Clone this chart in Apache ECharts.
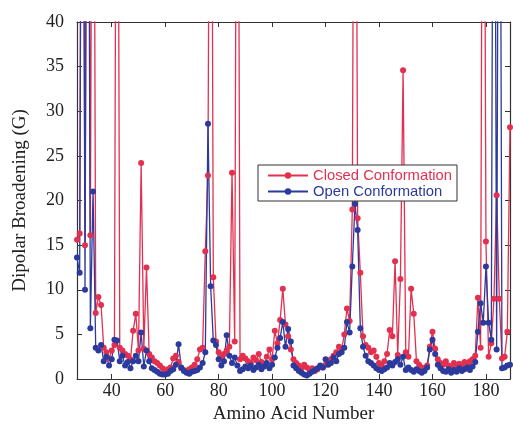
<!DOCTYPE html>
<html>
<head>
<meta charset="utf-8">
<script src="https://cdn.jsdelivr.net/npm/echarts@6/dist/echarts.min.js"></script>
<style>
html,body{margin:0;padding:0;background:#fff;}
#chart{width:513px;height:425px;}
</style>
</head>
<body>
<div id="chart"></div>
<script>
// residues 27..189
const residueStart = 27;
const closedValues = [
15.6,16.3,100,15.0,100,16.1,100,7.4,9.2,8.3,3.5,3.0,2.3,3.2,3.8,100,3.5,3.2,2.8,2.6,
2.2,5.4,7.3,3.2,24.2,3.4,12.5,2.8,2.4,2.0,1.8,1.5,1.2,1.0,1.1,1.3,2.3,2.6,1.9,1.2,
1.0,0.9,1.1,1.3,1.6,2.2,3.3,3.5,14.3,22.8,100,11.4,4.2,3.0,2.4,2.8,3.2,3.6,23.1,4.2,
100,2.2,2.6,2.3,2.0,1.8,2.4,2.1,2.8,1.9,1.6,2.5,3.3,2.2,5.4,4.0,6.6,10.1,6.1,4.8,
3.3,2.2,1.8,1.5,1.2,1.6,1.3,1.0,1.2,0.9,1.1,1.4,1.3,1.6,1.8,2.2,2.6,3.0,3.6,3.3,
5.0,7.9,6.5,19.0,100,18.0,11.9,4.8,3.8,3.5,3.0,3.2,2.5,1.8,1.5,2.0,2.8,5.5,4.8,13.2,
2.7,11.2,34.6,3.0,2.5,10.1,7.3,2.0,1.6,1.3,1.2,1.5,3.6,5.3,3.4,2.2,1.8,1.6,2.0,1.5,
1.3,1.8,1.5,1.7,1.4,1.9,1.6,2.0,2.2,2.6,9.1,3.5,100,15.4,2.5,4.0,9.0,20.6,9.0,2.3,
2.5,5.3,28.2
];
const openValues = [
13.6,11.9,100,10.0,100,5.7,21.0,3.5,3.2,3.8,2.0,2.5,1.5,2.2,4.4,4.3,2.0,2.6,1.5,1.9,
1.2,2.0,2.6,2.0,5.2,1.4,3.2,2.0,1.2,1.0,0.8,0.6,0.5,0.5,0.6,0.9,1.1,1.6,3.9,1.3,
0.9,0.7,0.6,0.8,0.9,1.0,1.3,1.8,3.0,28.6,10.4,4.3,3.8,2.2,1.5,2.0,4.9,2.6,1.8,2.4,
1.5,0.9,1.1,1.4,1.2,1.5,1.0,1.3,1.6,1.1,1.4,1.8,1.2,1.6,2.4,3.5,4.6,6.4,3.6,5.6,
4.2,1.5,1.2,0.9,0.7,0.5,0.4,0.6,0.8,1.0,1.2,1.5,1.3,2.2,1.6,1.8,2.4,2.0,2.8,3.0,
3.5,6.4,5.2,12.6,19.6,16.7,5.7,3.6,2.6,2.0,1.8,1.5,1.2,1.0,0.9,1.1,1.3,1.8,1.5,1.9,
2.2,1.6,2.5,1.0,1.3,1.0,0.8,1.1,0.9,0.7,0.9,1.3,3.3,4.4,2.8,1.6,1.2,0.9,0.8,1.1,
0.7,1.0,0.8,1.2,0.9,1.1,1.3,1.0,1.4,1.9,5.3,8.5,6.3,12.6,6.3,4.4,100,3.3,100,1.2,
1.3,1.5,1.6
];
const xTicks = [40,60,80,100,120,140,160,180];
const yTicks = [0,5,10,15,20,25,30,35,40];
const seriesNames = ['Closed Conformation','Open Conformation'];

const closedData = closedValues.map((v,i)=>[residueStart+i, v]);
const openData = openValues.map((v,i)=>[residueStart+i, v]);

const RED = '#e3304f';
const BLUE = '#2b3a9c';
const serif = 'Liberation Serif';

const chart = echarts.init(document.getElementById('chart'), null, {renderer:'canvas'});
chart.setOption({
  animation:false,
  backgroundColor:'#fff',
  grid:{left:77, right:3, top:22, bottom:46, containLabel:false, outerBoundsMode:'none'},
  legend:{
    orient:'vertical', left:258, top:165,
    backgroundColor:'#fff', borderColor:'#333', borderWidth:1,
    padding:[3,5,2,9], itemGap:1, itemWidth:40, itemHeight:8,
    textStyle:{fontFamily:'Liberation Sans', fontSize:14.8},
    data:[
      {name:seriesNames[0], textStyle:{color:RED}},
      {name:seriesNames[1], textStyle:{color:BLUE}}
    ]
  },
  xAxis:[{
    type:'value', min:27, max:189,
    name:'Amino Acid Number', nameLocation:'middle', nameGap:26,
    nameTextStyle:{fontFamily:serif, fontSize:19, color:'#222'},
    axisLine:{show:true, onZero:false, lineStyle:{color:'#333', width:1.2}},
    axisTick:{show:true, inside:true, length:5, customValues:xTicks, lineStyle:{color:'#333'}},
    axisLabel:{customValues:xTicks, fontFamily:serif, fontSize:18, color:'#222', margin:3},
    splitLine:{show:false}
  },{
    type:'value', min:27, max:189, position:'top',
    axisLine:{show:true, onZero:false, lineStyle:{color:'#333', width:1.2}},
    axisTick:{show:true, inside:true, length:5, customValues:xTicks, lineStyle:{color:'#333'}},
    axisLabel:{show:false}, splitLine:{show:false}
  }],
  yAxis:[{
    type:'value', min:0, max:40, interval:5,
    name:'Dipolar Broadening (G)', nameLocation:'middle', nameGap:47, nameRotate:90,
    nameTextStyle:{fontFamily:serif, fontSize:19, color:'#222'},
    axisLine:{show:true, onZero:false, lineStyle:{color:'#333', width:1.2}},
    axisTick:{show:true, inside:true, length:5, lineStyle:{color:'#333'}},
    axisLabel:{fontFamily:serif, fontSize:18, color:'#222', margin:13},
    splitLine:{show:false}
  },{
    type:'value', min:0, max:40, interval:5, position:'right',
    axisLine:{show:true, onZero:false, lineStyle:{color:'#333', width:1.2}},
    axisTick:{show:true, inside:true, length:5, lineStyle:{color:'#333'}},
    axisLabel:{show:false}, splitLine:{show:false}
  }],
  series:[
    {name:seriesNames[0], type:'line', data:closedData, clip:true,
     symbol:'circle', symbolSize:6, showAllSymbol:true,
     itemStyle:{color:RED}, lineStyle:{color:RED, width:1.3}},
    {name:seriesNames[1], type:'line', data:openData, clip:true,
     symbol:'circle', symbolSize:6, showAllSymbol:true,
     itemStyle:{color:BLUE}, lineStyle:{color:BLUE, width:1.3}}
  ]
});
</script>
</body>
</html>
